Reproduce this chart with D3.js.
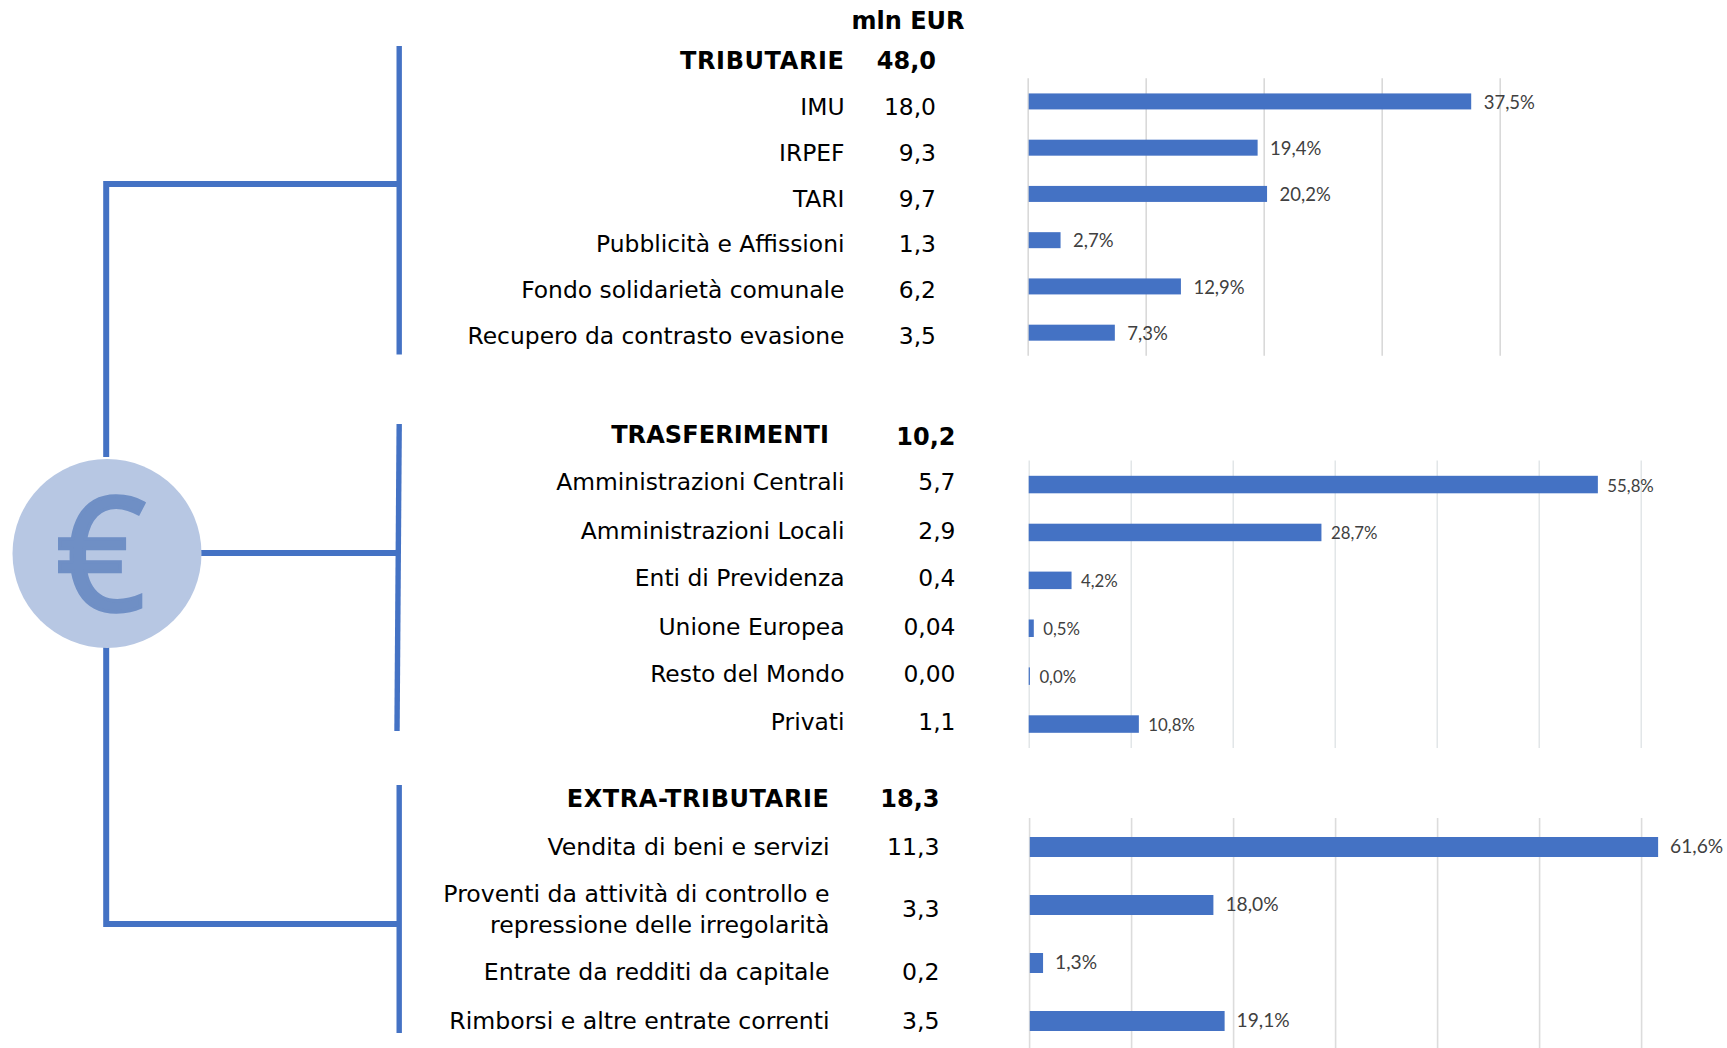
<!DOCTYPE html>
<html><head><meta charset="utf-8">
<script src="https://cdn.jsdelivr.net/npm/d3@7"></script>
<style>html,body{margin:0;padding:0;background:#fff;overflow:hidden}svg{display:block}</style>
</head><body><svg id="c" width="1727" height="1048"></svg>
<script>
// ---- data ----
const unitLabel = "mln EUR";
const groupNames = ["TRIBUTARIE", "TRASFERIMENTI", "EXTRA-TRIBUTARIE"];
const groupTotals = ["48,0", "10,2", "18,3"];
const tributarieCategories = ["IMU","IRPEF","TARI","Pubblicità e Affissioni","Fondo solidarietà comunale","Recupero da contrasto evasione"];
const tributarieAmounts = ["18,0","9,3","9,7","1,3","6,2","3,5"];
const tributarieShares = [37.5,19.4,20.2,2.7,12.9,7.3];
const trasferimentiCategories = ["Amministrazioni Centrali","Amministrazioni Locali","Enti di Previdenza","Unione Europea","Resto del Mondo","Privati"];
const trasferimentiAmounts = ["5,7","2,9","0,4","0,04","0,00","1,1"];
const trasferimentiShares = [55.8,28.7,4.2,0.5,0.0,10.8];
const extraCategories = ["Vendita di beni e servizi","Proventi da attività di controllo e\nrepressione delle irregolarità","Entrate da redditi da capitale","Rimborsi e altre entrate correnti"];
const extraAmounts = ["11,3","3,3","0,2","3,5"];
const extraShares = [61.6,18.0,1.3,19.1];
const tributarieTicks = [0,10,20,30,40];
const otherTicks = [0,10,20,30,40,50,60];

// ---- layout ----
const svg = d3.select("#c");
const BLUE = "#4472C4", FONT = "'DejaVu Sans'", LBL = "Lato";
const HEAD = 24;
const panels = [
 {cats:tributarieCategories, amts:tributarieAmounts, shares:tributarieShares, ticks:tributarieTicks, body:23.4,
  x0:1028.7, pxPerTen:118, gridDx:-1, top:78.3, bottom:355.8, barH:16, lblSize:18.5, lblGap:12.5, lblDy:0.5, grid:"#D9D9D9", gridW:1.6,
  head:{y:60, lx:844.5, vx:936, vy:60, sp:0.6}, lx:844.5, vx:936, rowY:[106.3,152.5,198.3,244,289.2,335.3]},
 {cats:trasferimentiCategories, amts:trasferimentiAmounts, shares:trasferimentiShares, ticks:otherTicks, body:23.4,
  x0:1028.7, pxPerTen:102, gridDx:0, top:460.6, bottom:748, barH:17.5, lblSize:16.8, lblGap:9.5, lblDy:1, grid:"#DDE2E4", gridW:1.3,
  head:{y:434.5, lx:829, vx:955.5, vy:436.5, sp:0.1}, lx:844.5, vx:955.5, rowY:[482,530.4,577.8,626.3,673.6,722]},
 {cats:extraCategories, amts:extraAmounts, shares:extraShares, ticks:otherTicks, body:23.6,
  x0:1029.8, pxPerTen:102, gridDx:-0.7, top:818, bottom:1050, barH:20, lblSize:19.2, lblGap:12, lblDy:-1, grid:"#DCDCDC", gridW:1.6,
  head:{y:798.5, lx:829.5, vx:939.5, vy:798.5, sp:0.6}, lx:829.5, vx:939.5, rowY:[846.6,908.6,971.3,1020.6]}
];

// connector lines
const conn = [
 [[106.2,457],[106.2,184],[398.7,184]],
 [[106.2,647],[106.2,924],[398.7,924]],
 [[201,553],[397,553]]
];
const brackets = [
 [[399.2,46],[399.2,354.6]],
 [[399.2,424],[397,731]],
 [[399.2,785],[399.2,1033]]
];
const line = d3.line();
svg.selectAll("path.conn").data(conn).join("path").attr("class","conn")
  .attr("d",line).attr("fill","none").attr("stroke",BLUE).attr("stroke-width",6).attr("stroke-linejoin","miter");
svg.selectAll("path.br").data(brackets).join("path").attr("class","br")
  .attr("d",line).attr("fill","none").attr("stroke",BLUE).attr("stroke-width",5.4);

// euro circle
svg.append("circle").attr("cx",107).attr("cy",553.5).attr("r",94.5).attr("fill","#B7C7E3");
svg.append("text").attr("x",101).attr("y",610).attr("text-anchor","middle")
  .attr("font-family","'Open Sans'").attr("font-size",158)
  .attr("fill","#6F8FC5").attr("stroke","#6F8FC5").attr("stroke-width",3.5).text("€");

function txt(x,y,s,size,weight,sp){
  return svg.append("text").attr("x",x).attr("y",y).attr("dy","0.36em")
    .attr("text-anchor","end").attr("font-family",FONT).attr("font-size",size)
    .attr("font-weight",weight||"normal").attr("letter-spacing",sp||0).attr("fill","#000").text(s);
}
txt(964.5,20.5,unitLabel,HEAD,"bold");

panels.forEach((p,pi)=>{
  const x = d3.scaleLinear().domain([0,10]).range([p.x0,p.x0+p.pxPerTen]);
  const y = d3.scaleBand().domain(p.cats).range([p.top,p.bottom]);
  const g = svg.append("g");
  // gridlines via axis
  const ax = g.append("g").attr("transform",`translate(${p.gridDx},${p.top})`)
    .call(d3.axisBottom(x).tickValues(p.ticks).tickSize(p.bottom-p.top).tickFormat(""));
  ax.select(".domain").remove();
  ax.selectAll("text").remove();
  ax.selectAll("line").attr("stroke",p.grid).attr("stroke-width",p.gridW);
  // bars
  g.selectAll("rect.bar").data(p.shares).join("rect").attr("class","bar")
    .attr("x",x(0))
    .attr("y",(d,i)=>y(p.cats[i])+y.bandwidth()/2-p.barH/2)
    .attr("width",d=>Math.max(x(d)-x(0),1.2))
    .attr("height",p.barH)
    .attr("fill",BLUE);
  // value labels
  g.selectAll("text.val").data(p.shares).join("text").attr("class","val")
    .attr("x",d=>Math.max(x(d),x(0)+1.2)+p.lblGap)
    .attr("y",(d,i)=>y(p.cats[i])+y.bandwidth()/2+p.lblDy)
    .attr("dy","0.36em")
    .attr("font-family",LBL).attr("font-size",p.lblSize).attr("fill","#404040")
    .text(d=>d3.format(".1f")(d).replace(".",",")+"%");
  // header
  txt(p.head.lx,p.head.y,groupNames[pi],HEAD,"bold",p.head.sp);
  txt(p.head.vx,p.head.vy,groupTotals[pi],HEAD,"bold");
  // rows
  p.cats.forEach((c,i)=>{
    const parts=c.split("\n");
    parts.forEach((t,k)=>{
      txt(p.lx,p.rowY[i]+(k-(parts.length-1)/2)*31,t,p.body);
    });
    txt(p.vx,p.rowY[i],p.amts[i],p.body);
  });
});
</script></body></html>
